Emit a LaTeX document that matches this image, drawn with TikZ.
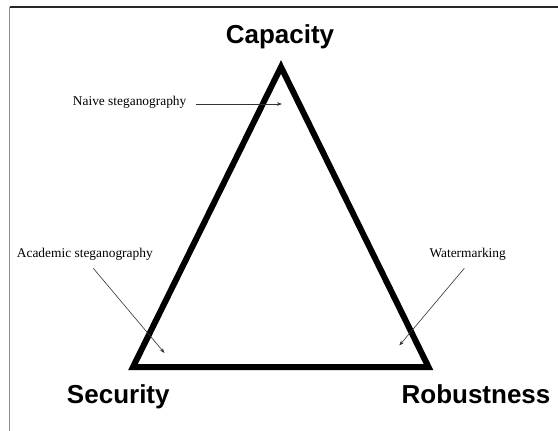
\documentclass[tikz,border=0pt]{standalone}
\usepackage{fontspec}
\setmainfont{Liberation Serif}
\newfontfamily\headfont{Liberation Sans}
\usetikzlibrary{arrows.meta}
\begin{document}
\begin{tikzpicture}[x=1pt,y=-1pt,
  corner/.style={font=\headfont\bfseries\fontsize{26}{28}\selectfont, inner sep=0pt, anchor=base},
  tag/.style={font=\fontsize{13.4}{15}\selectfont, inner sep=0pt},
  pointer/.style={draw=black!80, line width=0.6pt, -{Stealth[length=5pt,width=3.6pt]}},
  edge/.style={line width=6pt, line join=miter, miter limit=10}]
  \useasboundingbox (0,0) rectangle (558,431);
  \fill[white] (0,0) rectangle (558,431);
  % frame lines
  \coordinate (fTL) at (9.5,6.7);
  \coordinate (fTR) at (558,6.7);
  \coordinate (fBL) at (9.5,431);
  \draw[black!85, line width=1.6pt] (fTL) -- (fTR);
  \draw[black!45, line width=1.4pt] (fTL) -- (fBL);
  % the triangle
  \coordinate (top) at (281,67);
  \coordinate (left) at (133,367);
  \coordinate (right) at (428.5,367);
  \draw[edge] (top) -- (right) -- (left) -- cycle;
  % corner labels
  \node[corner] (cap) at (280,43) {Capacity};
  \node[corner] (sec) at (118.3,403.5) {Security};
  \node[corner] (rob) at (476,403.5) {Robustness};
  % side labels and their pointers
  \node[tag, anchor=base west] (naive) at (72.7,105) {Naive steganography};
  \node[tag, anchor=base west] (acad) at (16.7,257.5) {Academic steganography};
  \node[tag, anchor=base west] (water) at (429.3,257) {Watermarking};
  \coordinate (naiveS) at (196,104);
  \coordinate (naiveE) at (282,104);
  \coordinate (acadS) at (93.3,268.3);
  \coordinate (acadE) at (164.5,353);
  \coordinate (waterS) at (464.3,268.3);
  \coordinate (waterE) at (399.3,345.5);
  \draw[pointer] (naiveS) -- (naiveE);
  \draw[pointer] (acadS) -- (acadE);
  \draw[pointer] (waterS) -- (waterE);
\end{tikzpicture}
\end{document}
